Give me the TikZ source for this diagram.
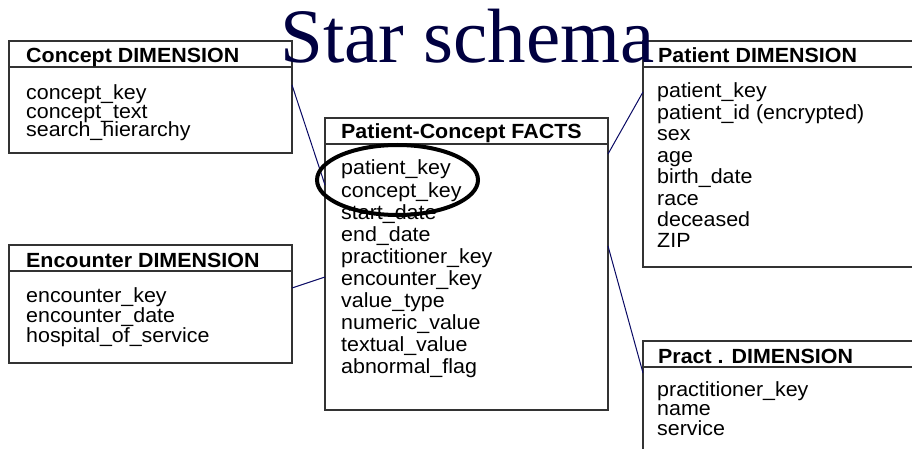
\documentclass[tikz,border=0pt]{standalone}
\usepackage{fontspec}
\setmainfont{Liberation Sans}[FakeStretch=1.045]
\newfontfamily\titlefont{Liberation Serif}
\usetikzlibrary{shapes.geometric}
\definecolor{titlenavy}{RGB}{0,0,64}
\definecolor{linknavy}{RGB}{10,10,100}

\begin{document}
\begin{tikzpicture}[x=1pt,y=-1pt]
    \tikzstyle{tablebox}=[draw=black!80,line width=1.2pt,anchor=north west,inner sep=0pt,outer sep=0pt]
    \tikzstyle{headtext}=[anchor=base west,inner sep=0pt,font=\fontsize{20.5}{20.5}\selectfont\bfseries]
    \tikzstyle{fieldtext}=[anchor=base west,inner sep=0pt,font=\fontsize{20.5}{20.5}\selectfont]
    \tikzstyle{link}=[draw=linknavy,line width=1pt]

    \useasboundingbox (0,0) rectangle (912,449);

    % Draw the tables.
    \node[tablebox,minimum width=283pt,minimum height=112pt] (concept) at (9,41) {};
    \node[tablebox,minimum width=283pt,minimum height=292pt] (facts) at (325,118) {};
    \node[tablebox,minimum width=290pt,minimum height=226pt] (patient) at (643,41) {};
    \node[tablebox,minimum width=283pt,minimum height=118pt] (encounter) at (9,245) {};
    \node[tablebox,minimum width=290pt,minimum height=130pt] (pract) at (643,341) {};

    % Header rules.
    \foreach \tab in {concept,facts,patient,encounter,pract}
        \draw[draw=black!80,line width=1.2pt] ([yshift=-26pt]\tab.north west) -- ([yshift=-26pt]\tab.north east);

    % Table headers.
    \node[headtext] (concept-head) at (26,63) {Concept DIMENSION};
    \node[headtext] (facts-head) at (341,139) {Patient-Concept FACTS};
    \node[headtext] (patient-head) at (658,63) {Patient DIMENSION};
    \node[headtext] (encounter-head) at (26,267) {Encounter DIMENSION};
    \node[headtext] (pract-head) at (658,363) {Pract . DIMENSION};

    % Table fields.
    \foreach \fname [count=\i] in {concept\_key,concept\_text,search\_hierarchy}
        \node[fieldtext] (concept-\i) at (26,{100+18.5*(\i-1)}) {\fname};

    \foreach \fname [count=\i] in {patient\_key,concept\_key,start\_date,end\_date,
            practitioner\_key,encounter\_key,value\_type,numeric\_value,textual\_value,abnormal\_flag}
        \node[fieldtext] (facts-\i) at (341,{175+22*(\i-1)}) {\fname};

    \foreach \fname [count=\i] in {patient\_key,patient\_id (encrypted),sex,age,birth\_date,race,deceased,ZIP}
        \node[fieldtext] (patient-\i) at (657,{98+21.4*(\i-1)}) {\fname};

    \foreach \fname [count=\i] in {encounter\_key,encounter\_date,hospital\_of\_service}
        \node[fieldtext] (encounter-\i) at (26,{302+20*(\i-1)}) {\fname};

    \foreach \fname [count=\i] in {practitioner\_key,name,service}
        \node[fieldtext] (pract-\i) at (657,{396+19.5*(\i-1)}) {\fname};

    % Connect the dimensions with the facts.
    \draw[link] ([yshift=12pt]concept.east) -- ([yshift=79pt]facts.west);
    \draw[link] ([yshift=62pt]patient.west) -- ([yshift=110pt]facts.east);
    \draw[link] ([yshift=16pt]encounter.east) -- ([yshift=-13pt]facts.west);
    \draw[link] ([yshift=18pt]facts.east) -- ([yshift=33pt]pract.west);

    % Title.
    \node[anchor=base west,inner sep=0pt,text=titlenavy,font=\titlefont\fontsize{77}{77}\selectfont] (title) at (280,63) {Star schema};

    % Highlight the keys.
    \node[ellipse,draw=black,line width=4pt,minimum width=161pt,minimum height=70pt,inner sep=0pt] (keyring) at (397.5,180) {};
\end{tikzpicture}
\end{document}
